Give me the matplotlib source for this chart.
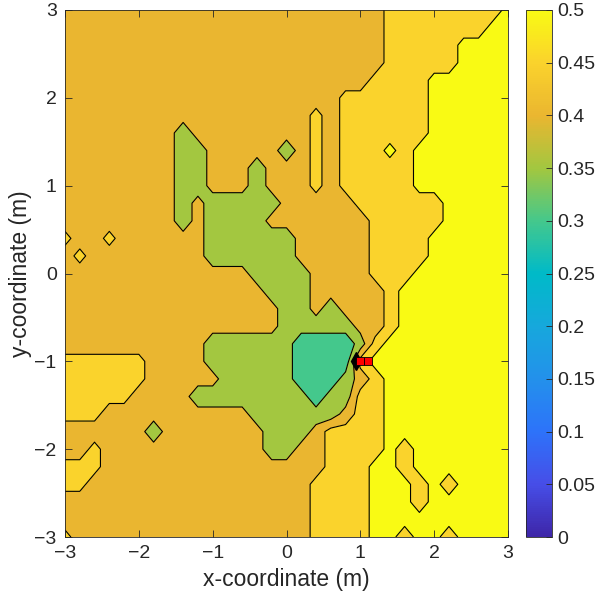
import numpy as np
import matplotlib
matplotlib.use('Agg')
import matplotlib.pyplot as plt
from matplotlib.colors import LinearSegmentedColormap, Normalize
from matplotlib.cm import ScalarMappable

plt.rcParams['font.family'] = ['Liberation Sans', 'DejaVu Sans']

# grid of the field, 0.2 m spacing; rows run from y = 3 down to y = -3
x_coords = np.linspace(-3, 3, 31)
y_coords = np.linspace(3, -3, 31)

# value of each band code
band_values = {'t': 0.32, 'g': 0.37, 'o': 0.42, 'l': 0.47, 'y': 0.52}

# run-length rows: code + number of grid points
field_rows = [
    "o22 l8 y1",
    "o22 l7 y2",
    "o22 l5 y4",
    "o22 l5 y4",
    "o21 l4 y6",
    "o19 l6 y6",
    "o17 l1 o1 l6 y6",
    "o8 g1 o8 l1 o1 l6 y6",
    "o8 g2 o5 g1 o1 l1 o1 l3 y1 l1 y7",
    "o8 g2 o3 g1 o3 l1 o1 l5 y7",
    "o8 g2 o3 g1 o3 l1 o1 l5 y7",
    "o8 g1 o1 g5 o5 l6 y5",
    "o8 g1 o1 g4 o7 l5 y5",
    "l1 o2 l1 o6 g6 o5 l4 y6",
    "o1 l1 o8 g6 o5 l4 y6",
    "o13 g4 o4 l3 y7",
    "o14 g3 o5 l1 y8",
    "o15 g2 o1 g1 o3 l1 y8",
    "o15 g5 o2 l1 y8",
    "o10 g6 t4 g1 l1 y9",
    "l6 o4 g6 t4 l1 y10",
    "l6 o5 g5 t3 g1 o1 l1 y9",
    "l5 o4 g8 t1 g2 l2 y9",
    "l3 o10 g6 o1 l2 y9",
    "o6 g1 o7 g3 o1 l4 y9",
    "o2 l1 o11 g2 o2 l4 y1 l1 y7",
    "l3 o15 l3 y2 l1 y7",
    "l2 o15 l4 y3 l1 y1 l1 y4",
    "o17 l4 y3 l1 y6",
    "o17 l4 y10",
    "l1 o16 l4 y2 l1 y2 l1 y4",
]

# source / receiver positions
diamond_xy = (0.94, -1.0)
square_x = [1.0, 1.1]
square_y = [-1.0, -1.0]

fill_levels = [0.3, 0.35, 0.4, 0.45, 0.5, 0.6]
line_levels = [0.35, 0.4, 0.45, 0.5]
cbar_ticks = [0, 0.05, 0.1, 0.15, 0.2, 0.25, 0.3, 0.35, 0.4, 0.45, 0.5]


def expand(row):
    vals = []
    for run in row.split():
        vals += [band_values[run[0]]] * int(run[1:])
    return vals


Z = np.array([expand(r) for r in field_rows])

# parula-like colormap
parula_pts = [
    (0.00, (62, 38, 168)),
    (0.10, (70, 78, 232)),
    (0.20, (45, 115, 250)),
    (0.30, (35, 145, 235)),
    (0.40, (22, 168, 220)),
    (0.50, (0, 186, 200)),
    (0.60, (68, 200, 140)),
    (0.70, (162, 199, 64)),
    (0.80, (234, 182, 48)),
    (0.90, (250, 210, 44)),
    (1.00, (249, 250, 20)),
]
parula = LinearSegmentedColormap.from_list(
    'parula', [(p, tuple(c / 255 for c in rgb)) for p, rgb in parula_pts])
norm = Normalize(0, 0.5)
fill_colors = [parula(norm(v)) for v in fill_levels[:-1]]

fig = plt.figure(figsize=(6.01, 6.10), dpi=100)
ax = fig.add_axes([65 / 601, 1 - 537 / 610, 443 / 601, 527 / 610])

ax.contourf(x_coords, y_coords, Z, levels=fill_levels, colors=fill_colors)
ax.contour(x_coords, y_coords, Z, levels=line_levels, colors='k', linewidths=0.8)

ax.plot(*diamond_xy, marker='d', color='k', markersize=9, zorder=5)
ax.plot(square_x, square_y, ls='none', marker='s', markersize=6,
        markerfacecolor='red', markeredgecolor='k', markeredgewidth=0.6, zorder=6)

ax.set_xlim(-3, 3)
ax.set_ylim(-3, 3)
ax.set_xticks(range(-3, 4))
ax.set_yticks(range(-3, 4))
axis_grey = (0.15, 0.15, 0.15)
ax.tick_params(direction='in', top=True, right=True, length=5, width=0.6,
               labelsize=14, colors=axis_grey, pad=6)
for s in ax.spines.values():
    s.set_color(axis_grey)
    s.set_linewidth(0.6)
ax.set_xlabel('x-coordinate (m)', fontsize=16.5, color=axis_grey, labelpad=4)
ax.set_ylabel('y-coordinate (m)', fontsize=16.5, color=axis_grey, labelpad=2)

cax = fig.add_axes([526 / 601, 1 - 537 / 610, 26 / 601, 527 / 610])
cb = fig.colorbar(ScalarMappable(norm=norm, cmap=parula), cax=cax, ticks=cbar_ticks)
cb.ax.set_yticklabels([f'{t:g}' for t in cbar_ticks])
cb.ax.tick_params(direction='in', length=4, width=0.6, labelsize=14,
                  colors=axis_grey, pad=4)
cb.outline.set_edgecolor(axis_grey)
cb.outline.set_linewidth(0.6)

fig.savefig('out.png', dpi=100)
